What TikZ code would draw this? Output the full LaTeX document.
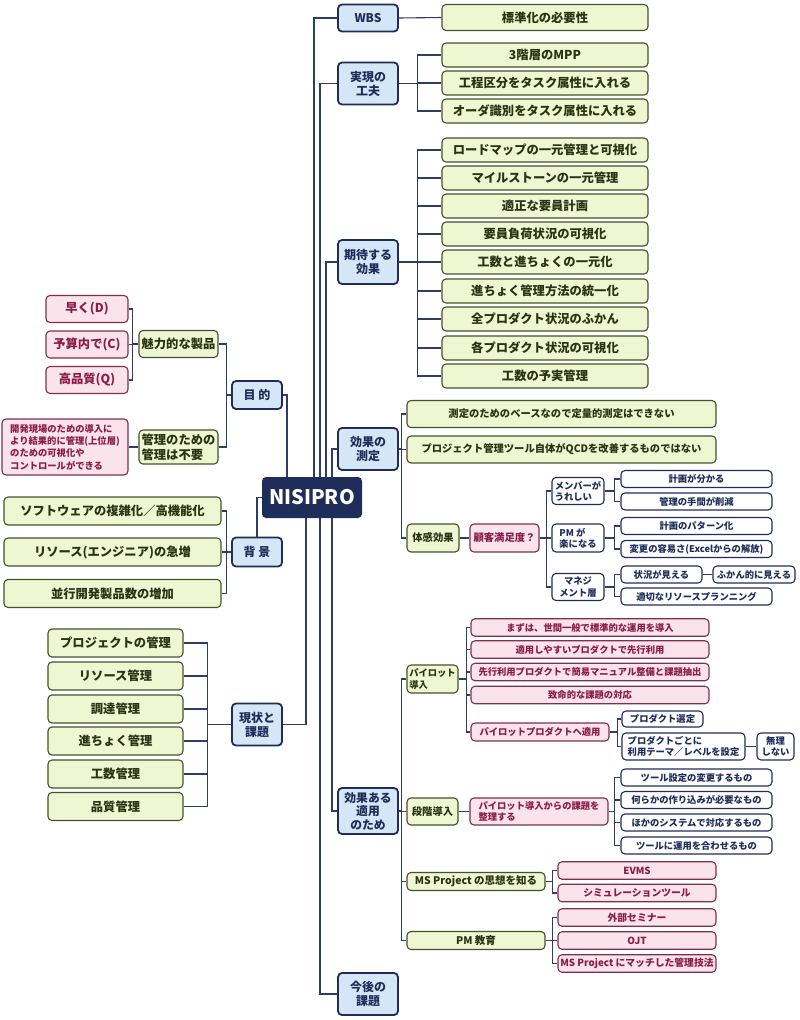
\documentclass[tikz,border=0pt]{standalone}
\usepackage{fontspec}
\setmainfont{Noto Sans CJK JP}
\usetikzlibrary{calc}
\definecolor{navy}{HTML}{1F2D5A}
\definecolor{lnc}{HTML}{2E3C68}
\definecolor{bfill}{HTML}{D5E7F6}
\definecolor{gfill}{HTML}{EEF6D2}
\definecolor{gdraw}{HTML}{46512C}
\definecolor{gtext}{HTML}{2A3314}
\definecolor{pfill}{HTML}{FBE3EB}
\definecolor{pdraw}{HTML}{7E2F4E}
\definecolor{ptext}{HTML}{8A1C47}
\newcommand\jfL{\bfseries\fontsize{12.3}{14}\selectfont}
\newcommand\jfB{\bfseries\fontsize{12}{14}\selectfont}
\newcommand\jfM{\bfseries\fontsize{10.3}{12}\selectfont}
\newcommand\jfN{\bfseries\fontsize{9.8}{11.5}\selectfont}
\newcommand\jfS{\bfseries\fontsize{9.3}{11.2}\selectfont}
\begin{document}
\begin{tikzpicture}[x=1pt,y=-1pt,
  sz/.style 2 args={minimum width=#1,minimum height=#2},
  base/.style={rounded corners=4pt,inner sep=0pt,align=center},
  bbox/.style={base,draw=navy,line width=1.8pt,fill=bfill,text=navy,font=\jfB},
  gbox/.style={base,draw=gdraw,line width=1.1pt,fill=gfill,text=gtext,font=\jfL},
  pbox/.style={base,draw=pdraw,line width=1.1pt,fill=pfill,text=ptext,font=\jfL},
  wbox/.style={base,draw=navy,line width=1.1pt,fill=white,text=navy,font=\jfS},
  root/.style={base,fill=navy,text=white,font=\bfseries\fontsize{20}{24}\selectfont},
  conn/.style={draw=lnc,line width=1.1pt}]
\useasboundingbox (0,0) rectangle (800,1020);
\fill[white] (0,0) rectangle (800,1020);

% root
\node[root,sz={100}{41}] (nisi) at (312,497.5) {NISIPRO};

% level 1
\node[bbox,sz={60}{27}] (wbs) at (368,18) {WBS};
\node[bbox,sz={60}{42}] (jitsu) at (368,83.5) {実現の\\工夫};
\node[bbox,sz={60}{44}] (kitai) at (368,262) {期待する\\効果};
\node[bbox,sz={60}{42}] (sokutei) at (368,449) {効果の\\測定};
\node[bbox,sz={60}{46},font=\bfseries\fontsize{11.8}{13.5}\selectfont] (tekiyo) at (368,811) {効果ある\\適用\\のため};
\node[bbox,sz={60}{42}] (kongo) at (368,994) {今後の\\課題};
\node[bbox,sz={50}{28}] (moku) at (257,395) {目 的};
\node[bbox,sz={50}{29}] (haikei) at (257,552) {背 景};
\node[bbox,sz={50}{42}] (genjo) at (257,724.5) {現状と\\課題};

% root connectors
\draw[conn] ($(nisi.north)+(2,0)$) |- (wbs.west);
\draw[conn] ($(nisi.north)+(8,0)$) |- (jitsu.west);
\draw[conn] ($(nisi.north)+(14,0)$) |- (kitai.west);
\draw[conn] ($(nisi.north)+(20,0)$) |- (sokutei.west);
\draw[conn] ($(nisi.south)+(20,0)$) |- (tekiyo.west);
\draw[conn] ($(nisi.south)+(8,0)$) |- (kongo.west);
\draw[conn] ($(nisi.south)+(-6,0)$) |- (genjo.east);
\draw[conn] ($(nisi.north)+(-25,0)$) |- (moku.east);
\draw[conn] (nisi.west) -| (haikei.north);

% WBS
\node[gbox,sz={206}{26}] (hyojun) at (545,17.5) {標準化の必要性};
\draw[conn] (wbs.east) -- (hyojun.west);

% 実現の工夫
\node[gbox,sz={206}{24}] (mpp) at (545,55) {3階層のMPP};
\node[gbox,sz={206}{24}] (kotei) at (545,83) {工程区分をタスク属性に入れる};
\node[gbox,sz={206}{24}] (order) at (545,111) {オーダ識別をタスク属性に入れる};
\foreach \c in {mpp,kotei,order} \draw[conn] (jitsu.east) -- ++(19,0) |- (\c.west);

% 期待する効果
\node[gbox,sz={206}{24}] (k1) at (545,150) {ロードマップの一元管理と可視化};
\node[gbox,sz={206}{24}] (k2) at (545,178) {マイルストーンの一元管理};
\node[gbox,sz={206}{24}] (k3) at (545,206) {適正な要員計画};
\node[gbox,sz={206}{24}] (k4) at (545,234) {要員負荷状況の可視化};
\node[gbox,sz={206}{24}] (k5) at (545,262) {工数と進ちょくの一元化};
\node[gbox,sz={206}{24}] (k6) at (545,291) {進ちょく管理方法の統一化};
\node[gbox,sz={206}{24}] (k7) at (545,319) {全プロダクト状況のふかん};
\node[gbox,sz={206}{24}] (k8) at (545,348) {各プロダクト状況の可視化};
\node[gbox,sz={206}{24}] (k9) at (545,376) {工数の予実管理};
\foreach \c in {k1,k2,k3,k4,k5,k6,k7,k8,k9} \draw[conn] (kitai.east) -- ++(19,0) |- (\c.west);

% 効果の測定
\node[gbox,sz={309}{27},font=\jfM] (s1) at (561.5,414) {測定のためのベースなので定量的測定はできない};
\node[gbox,sz={309}{27},font=\jfM] (s2) at (561.5,449.5) {プロジェクト管理ツール自体がQCDを改善するものではない};
\node[gbox,sz={52}{28},font=\jfM] (taikan) at (433,538) {体感効果};
\foreach \c in {s1,s2,taikan} \draw[conn] (sokutei.east) -- ++(3,0) |- (\c.west);
\node[pbox,sz={69}{28},font=\jfM] (kokyaku) at (504.5,538) {顧客満足度？};
\draw[conn] (taikan.east) -- (kokyaku.west);
\node[wbox,sz={52}{27},align=left] (member) at (578,491) {メンバーが\\うれしい};
\node[wbox,sz={52}{28},align=left] (pmraku) at (578,538) {PM が\\楽になる};
\node[wbox,sz={52}{27}] (manage) at (578,587) {マネジ\\メント層};
\foreach \c in {member,pmraku,manage} \draw[conn] (kokyaku.east) -- ++(7,0) |- (\c.west);
\node[wbox,sz={151}{17}] (w1) at (696.5,479) {計画が分かる};
\node[wbox,sz={151}{17}] (w2) at (696.5,501.5) {管理の手間が削減};
\foreach \c in {w1,w2} \draw[conn] (member.east) -- ++(10,0) |- (\c.west);
\node[wbox,sz={151}{17}] (w3) at (696.5,526) {計画のパターン化};
\node[wbox,sz={151}{17}] (w4) at (696.5,549) {変更の容易さ(Excelからの解放)};
\foreach \c in {w3,w4} \draw[conn] (pmraku.east) -- ++(10,0) |- (\c.west);
\node[wbox,sz={81}{17}] (w5) at (661.5,574.5) {状況が見える};
\node[wbox,sz={151}{17}] (w6) at (696.5,596.5) {適切なリソースプランニング};
\foreach \c in {w5,w6} \draw[conn] (manage.east) -- ++(10,0) |- (\c.west);
\node[wbox,sz={82}{17}] (w7) at (754,574.5) {ふかん的に見える};
\draw[conn] (w5.east) -- (w7.west);

% 効果ある適用のため
\node[gbox,sz={51}{28},font=\jfS,align=left] (pilot) at (432.5,679) {パイロット\\導入};
\node[gbox,sz={51}{27},font=\jfM] (dankai) at (432.5,811.5) {段階導入};
\node[gbox,sz={138}{18},font=\bfseries\fontsize{10.5}{12}\selectfont] (msp) at (476,881.5) {MS Project の思想を知る};
\node[gbox,sz={138}{18},font=\bfseries\fontsize{10.5}{12}\selectfont] (pmedu) at (476,940.5) {PM 教育};
\foreach \c in {pilot,dankai,msp,pmedu} \draw[conn] (tekiyo.east) -- ++(3,0) |- (\c.west);

\node[pbox,sz={238}{17.5},font=\jfS] (p1) at (590,627.5) {まずは、世間一般で標準的な運用を導入};
\node[pbox,sz={238}{17.5},font=\jfS] (p2) at (590,649.5) {適用しやすいプロダクトで先行利用};
\node[pbox,sz={238}{17.5},font=\jfS] (p3) at (590,672) {先行利用プロダクトで簡易マニュアル整備と課題抽出};
\node[pbox,sz={238}{17.5},font=\jfS] (p4) at (590,695) {致命的な課題の対応};
\node[pbox,sz={138}{18},font=\jfS] (p5) at (540,732) {パイロットプロダクトへ適用};
\foreach \c in {p1,p2,p3,p4,p5} \draw[conn] (pilot.east) -- ++(8,0) |- (\c.west);
\node[wbox,sz={81}{16}] (sentei) at (662.5,719) {プロダクト選定};
\node[wbox,sz={123}{27},align=left] (goto) at (683.5,746.5) {プロダクトごとに\\利用テーマ／レベルを設定};
\foreach \c in {sentei,goto} \draw[conn] (p5.east) -- ++(8,0) |- (\c.west);
\node[wbox,sz={37}{27}] (muri) at (775.5,746.5) {無理\\しない};
\draw[conn] (goto.east) -- (muri.west);

\node[pbox,sz={138}{27},font=\jfS,align=left] (seiri) at (539,811.5) {パイロット導入からの課題を\\整理する};
\draw[conn] (dankai.east) -- (seiri.west);
\node[wbox,sz={151}{17}] (t1) at (696.5,777.5) {ツール設定の変更するもの};
\node[wbox,sz={151}{17}] (t2) at (696.5,800) {何らかの作り込みが必要なもの};
\node[wbox,sz={151}{17}] (t3) at (696.5,822.5) {ほかのシステムで対応するもの};
\node[wbox,sz={151}{17}] (t4) at (696.5,845.5) {ツールに運用を合わせるもの};
\foreach \c in {t1,t2,t3,t4} \draw[conn] (seiri.east) -- ++(6,0) |- (\c.west);

\node[pbox,sz={158}{17.5},font=\jfN] (evms) at (637,870.5) {EVMS};
\node[pbox,sz={158}{17.5},font=\jfN] (simu) at (637,893) {シミュレーションツール};
\foreach \c in {evms,simu} \draw[conn] (msp.east) -- ++(7,0) |- (\c.west);
\node[pbox,sz={158}{17.5},font=\jfN] (gaibu) at (637,917.5) {外部セミナー};
\node[pbox,sz={158}{17.5},font=\jfN] (ojt) at (637,940.5) {OJT};
\node[pbox,sz={158}{17.5},font=\jfN] (match) at (637,963.5) {MS Project にマッチした管理技法};
\foreach \c in {gaibu,ojt,match} \draw[conn] (pmedu.east) -- ++(7,0) |- (\c.west);

% 目的
\node[gbox,sz={79}{27}] (miryoku) at (178.5,344) {魅力的な製品};
\node[gbox,sz={79}{34},align=left,font=\bfseries\fontsize{12.3}{15}\selectfont] (kanri) at (178.5,447) {管理のための\\管理は不要};
\foreach \c in {miryoku,kanri} \draw[conn] (moku.west) -- ++(-5,0) |- (\c.east);
\node[pbox,sz={82}{27}] (hayaku) at (87,309) {早く(D)};
\node[pbox,sz={82}{27}] (yosan) at (87,344.5) {予算内で(C)};
\node[pbox,sz={82}{27}] (hinshitsu) at (87,380) {高品質(Q)};
\foreach \c in {hayaku,yosan,hinshitsu} \draw[conn] (miryoku.west) -- ++(-6,0) |- (\c.east);
\node[pbox,sz={126}{56},align=left,font=\bfseries\fontsize{9.3}{12.3}\selectfont] (kaihatsu) at (65,447) {開発現場のための導入に\\より結果的に管理(上位層)\\のための可視化や\\コントロールができる};
\draw[conn] (kanri.west) -- (kaihatsu.east);

% 背景
\node[gbox,sz={217}{28}] (h1) at (112.5,511) {ソフトウェアの複雑化／高機能化};
\node[gbox,sz={217}{28}] (h2) at (112.5,552) {リソース(エンジニア)の急増};
\node[gbox,sz={217}{28}] (h3) at (112.5,593.5) {並行開発製品数の増加};
\foreach \c in {h1,h2,h3} \draw[conn] (haikei.west) -- ++(-5,0) |- (\c.east);

% 現状と課題
\node[gbox,sz={135}{28}] (g1) at (115.5,643) {プロジェクトの管理};
\node[gbox,sz={135}{28}] (g2) at (115.5,676) {リソース管理};
\node[gbox,sz={135}{28}] (g3) at (115.5,709) {調達管理};
\node[gbox,sz={135}{28}] (g4) at (115.5,741) {進ちょく管理};
\node[gbox,sz={135}{28}] (g5) at (115.5,774) {工数管理};
\node[gbox,sz={135}{28}] (g6) at (115.5,806.5) {品質管理};
\foreach \c in {g1,g2,g3,g4,g5,g6} \draw[conn] (genjo.west) -- ++(-24,0) |- (\c.east);
\end{tikzpicture}
\end{document}
